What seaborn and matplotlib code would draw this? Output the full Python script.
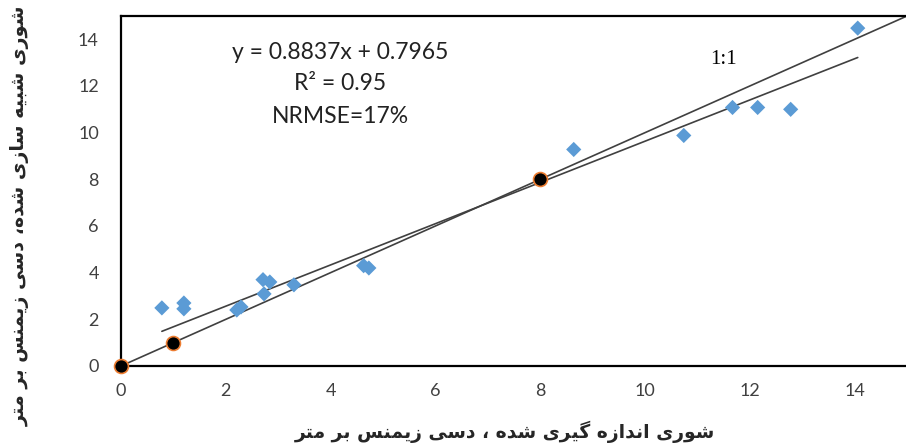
import matplotlib
matplotlib.use("Agg")
import matplotlib.pyplot as plt
import seaborn as sns
import pandas as pd

# ---- data ----
measured = [0.78, 1.2, 1.2, 2.21, 2.29, 2.71, 2.73, 2.84, 3.3, 4.63, 4.73, 8.64, 10.74, 11.67, 12.15, 12.78, 14.06]
simulated = [2.49, 2.7, 2.45, 2.4, 2.53, 3.7, 3.09, 3.6, 3.48, 4.3, 4.2, 9.28, 9.88, 11.08, 11.08, 11.0, 14.48]
ref_x = [0, 1, 8]
ref_y = [0, 1, 8]
one_to_one = [0, 15]
slope = 0.8837
intercept = 0.7965
x_ticks = [0, 2, 4, 6, 8, 10, 12, 14]
y_ticks = [0, 2, 4, 6, 8, 10, 12, 14]
eq_text = "y = 0.8837x + 0.7965"
r2_text = "R² = 0.95"
nrmse_text = "NRMSE=17%"
line_label = "1:1"
x_label = "شوری اندازه گیری شده ، دسی زیمنس بر متر"
y_label = "شوری شبیه سازی شده، دسی زیمنس بر متر"

# ---- minimal Persian shaping (presentation forms + RTL order) ----
FORMS = {
    'ا': ('\uFE8D', '\uFE8E', None, None),
    'ب': ('\uFE8F', '\uFE90', '\uFE91', '\uFE92'),
    'ت': ('\uFE95', '\uFE96', '\uFE97', '\uFE98'),
    'د': ('\uFEA9', '\uFEAA', None, None),
    'ر': ('\uFEAD', '\uFEAE', None, None),
    'ز': ('\uFEAF', '\uFEB0', None, None),
    'س': ('\uFEB1', '\uFEB2', '\uFEB3', '\uFEB4'),
    'ش': ('\uFEB5', '\uFEB6', '\uFEB7', '\uFEB8'),
    'م': ('\uFEE1', '\uFEE2', '\uFEE3', '\uFEE4'),
    'ن': ('\uFEE5', '\uFEE6', '\uFEE7', '\uFEE8'),
    'ه': ('\uFEE9', '\uFEEA', '\uFEEB', '\uFEEC'),
    'و': ('\uFEED', '\uFEEE', None, None),
    'ی': ('\uFBFC', '\uFBFD', '\uFBFE', '\uFBFF'),
    'گ': ('\uFB92', '\uFB93', '\uFB94', '\uFB95'),
}


def shape(text):
    out = []
    for i, c in enumerate(text):
        if c not in FORMS:
            out.append(c)
            continue
        f = FORMS[c]
        prev = text[i - 1] if i > 0 else None
        nxt = text[i + 1] if i + 1 < len(text) else None
        jp = prev in FORMS and FORMS[prev][2] is not None
        jn = nxt in FORMS and f[2] is not None
        if jp and jn:
            out.append(f[3])
        elif jp:
            out.append(f[1])
        elif jn:
            out.append(f[2])
        else:
            out.append(f[0])
    return ''.join(reversed(out))


sns.set_theme(style="white")
plt.rcParams['font.family'] = ['Lato', 'DejaVu Sans']

fig = plt.figure(figsize=(9.06, 4.47), dpi=100)
ax = fig.add_axes([121 / 906, 81 / 447, 786 / 906, 350 / 447])

df = pd.DataFrame({"measured": measured, "simulated": simulated})
ref = pd.DataFrame({"x": ref_x, "y": ref_y})

# 1:1 line
sns.lineplot(x=one_to_one, y=one_to_one, ax=ax, color="#404040", linewidth=1.2, zorder=2)
# regression line
xr = [min(measured), max(measured)]
yr = [slope * v + intercept for v in xr]
sns.lineplot(x=xr, y=yr, ax=ax, color="#404040", linewidth=1.2, zorder=2)

sns.scatterplot(data=df, x="measured", y="simulated", ax=ax, marker="D", s=60,
                color="#5B9BD5", edgecolor="none", linewidth=0, zorder=3)
sns.scatterplot(data=ref, x="x", y="y", ax=ax, marker="o", s=100,
                color="black", edgecolor="#ED7D31", linewidth=1.2, zorder=4, clip_on=False)

ax.set_xlim(0, 15)
ax.set_ylim(0, 15)
ax.set_xticks(x_ticks)
ax.set_yticks(y_ticks)
ax.tick_params(axis='both', direction='in', length=4, width=1, color='#404040',
               labelsize=13, labelcolor='#404040')
ax.tick_params(axis='y', pad=16)
ax.tick_params(axis='x', pad=12)

for side in ['top', 'left', 'bottom']:
    ax.spines[side].set_visible(True)
    ax.spines[side].set_color('black')
    ax.spines[side].set_linewidth(1.6)
ax.spines['right'].set_visible(False)

ax.text(4.18, 13.45, eq_text, fontsize=16.5, ha='center', va='center', color='#222222')
ax.text(4.18, 12.12, r2_text, fontsize=16.5, ha='center', va='center', color='#222222')
ax.text(4.18, 10.68, nrmse_text, fontsize=16.5, ha='center', va='center', color='#222222')
ax.text(11.49, 13.15, line_label, fontsize=15, ha='center', va='center', color='black',
        family='Liberation Serif')

ax.set_xlabel(shape(x_label), fontsize=13.5, fontweight='bold', family=['DejaVu Sans'])
ax.xaxis.set_label_coords((505 - 121) / 786, -(421 - 366) / 350)
ax.set_ylabel(shape(y_label), fontsize=13.8, fontweight='bold', family=['DejaVu Sans'])
ax.yaxis.set_label_coords((30 - 121) / 786, (366 - 216) / 350)

fig.savefig("out.png", dpi=100)
